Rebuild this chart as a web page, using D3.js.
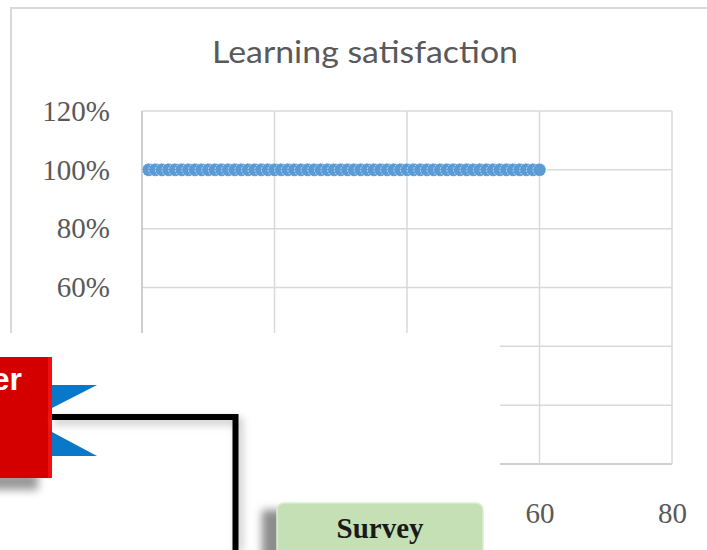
<!DOCTYPE html>
<html>
<head>
<meta charset="utf-8">
<script src="https://cdn.jsdelivr.net/npm/d3@7"></script>
<style>
  html, body { margin: 0; padding: 0; background: #fff; }
  svg { display: block; }
</style>
</head>
<body>
<div id="chart"></div>
<script>
// one point per student, every answer was "satisfied"
const studentNo = [1, 2, 3, 4, 5, 6, 7, 8, 9, 10, 11, 12, 13, 14, 15, 16, 17, 18, 19, 20,
    21, 22, 23, 24, 25, 26, 27, 28, 29, 30, 31, 32, 33, 34, 35, 36, 37, 38, 39, 40,
    41, 42, 43, 44, 45, 46, 47, 48, 49, 50, 51, 52, 53, 54, 55, 56, 57, 58, 59, 60]
const satisfaction = [1, 1, 1, 1, 1, 1, 1, 1, 1, 1, 1, 1, 1, 1, 1, 1, 1, 1, 1, 1,
    1, 1, 1, 1, 1, 1, 1, 1, 1, 1, 1, 1, 1, 1, 1, 1, 1, 1, 1, 1,
    1, 1, 1, 1, 1, 1, 1, 1, 1, 1, 1, 1, 1, 1, 1, 1, 1, 1, 1, 1]
const xTicks = [0, 20, 40, 60, 80]
const yTicks = [0, 0.2, 0.4, 0.6, 0.8, 1.0, 1.2]
const chartTitle = 'Learning satisfaction'

const width = 707
const height = 550

// the pasted diagram covers this part of the chart
const cover = { x: 0, y: 333, w: 500, h: 217 }
const isCovered = (px, py) => px < cover.x + cover.w && py > cover.y

const svg = d3.select('#chart').append('svg')
    .attr('width', width)
    .attr('height', height)
    .style('font-family', "'Liberation Serif', 'Times New Roman', serif")

const defs = svg.append('defs')
defs.append('filter').attr('id', 'soft-shadow')
    .attr('x', '-50%').attr('y', '-50%').attr('width', '200%').attr('height', '200%')
    .append('feGaussianBlur').attr('stdDeviation', 4)

svg.append('rect').attr('width', width).attr('height', height).attr('fill', '#fff')

// chart frame (runs off the right/bottom of the picture)
svg.append('rect')
    .attr('x', 11).attr('y', 8)
    .attr('width', 720).attr('height', 560)
    .attr('fill', 'none')
    .attr('stroke', '#d9d9d9')
    .attr('stroke-width', 2)

const x = d3.scaleLinear().domain([0, 80]).range([142, 672])
const y = d3.scaleLinear().domain([0, 1.2]).range([464, 111])

const plot = svg.append('g')

// gridlines
plot.append('g').selectAll('line').data(yTicks).enter()
    .append('line')
    .attr('x1', x(0)).attr('x2', x(80))
    .attr('y1', d => y(d)).attr('y2', d => y(d))
    .attr('stroke', d => d === 0 ? '#bfbfbf' : '#d9d9d9')
    .attr('stroke-width', 1.5)

plot.append('g').selectAll('line').data(xTicks).enter()
    .append('line')
    .attr('x1', d => x(d)).attr('x2', d => x(d))
    .attr('y1', y(1.2)).attr('y2', y(0))
    .attr('stroke', d => d === 0 ? '#bfbfbf' : '#d9d9d9')
    .attr('stroke-width', 1.5)

// axes, labels only
const yAxis = plot.append('g')
    .attr('transform', `translate(${x(0)},0)`)
    .call(d3.axisLeft(y).tickValues(yTicks).tickFormat(d3.format('.0%')).tickSize(0).tickPadding(32))
const xAxis = plot.append('g')
    .attr('transform', `translate(0,${y(0)})`)
    .call(d3.axisBottom(x).tickValues(xTicks).tickSize(0).tickPadding(38))

;[yAxis, xAxis].forEach(a => {
    a.select('.domain').remove()
    a.selectAll('text')
        .attr('font-family', "'Liberation Serif', 'Times New Roman', serif")
        .attr('font-size', 29)
        .attr('fill', '#595959')
})

// labels hidden under the diagram are not drawn
yAxis.selectAll('.tick').filter(d => isCovered(x(0) - 60, y(d))).remove()
xAxis.selectAll('.tick').filter(d => isCovered(x(d), y(0) + 45)).remove()

// series
const points = studentNo.map((d, i) => ({ x: d, y: satisfaction[i] }))

plot.append('path')
    .datum(points)
    .attr('fill', 'none')
    .attr('stroke', '#5b9bd5')
    .attr('stroke-width', 2.5)
    .attr('d', d3.line().x(d => x(d.x)).y(d => y(d.y)))

plot.append('g').selectAll('circle').data(points).enter()
    .append('circle')
    .attr('cx', d => x(d.x))
    .attr('cy', d => y(d.y))
    .attr('r', 6.5)
    .attr('fill', '#5b9bd5')
    .attr('stroke', '#ffffff')
    .attr('stroke-width', 0.7)
    .attr('stroke-dasharray', '1.5,1.5')

svg.append('text')
    .text(chartTitle)
    .attr('x', 365)
    .attr('y', 63)
    .attr('text-anchor', 'middle')
    .attr('font-family', "Lato, 'Open Sans', sans-serif")
    .attr('font-weight', 400)
    .attr('font-size', 31)
    .attr('fill', '#595959')
    .attr('textLength', 306)
    .attr('lengthAdjust', 'spacingAndGlyphs')

// pasted piece of a flow diagram sitting on top of the chart
const diagram = svg.append('g')

diagram.append('rect')
    .attr('x', cover.x).attr('y', cover.y)
    .attr('width', cover.w).attr('height', cover.h)
    .attr('fill', '#fff')

// red box + shadow
diagram.append('rect')
    .attr('x', -10).attr('y', 472)
    .attr('width', 48).attr('height', 18)
    .attr('fill', '#9a9a9a')
    .attr('filter', 'url(#soft-shadow)')
diagram.append('rect')
    .attr('x', -5).attr('y', 357)
    .attr('width', 57).attr('height', 121)
    .attr('fill', '#d40000')
diagram.append('rect')
    .attr('x', 48).attr('y', 357)
    .attr('width', 4).attr('height', 121)
    .attr('fill', '#f01010')
diagram.append('text')
    .text('er')
    .attr('x', 22).attr('y', 390)
    .attr('text-anchor', 'end')
    .attr('font-family', "'Liberation Sans', Arial, sans-serif")
    .attr('font-weight', 'bold')
    .attr('font-size', 32)
    .attr('fill', '#fff')

// blue arrow wedges
diagram.append('path')
    .attr('d', 'M52,385 L97,385 L52,408 Z')
    .attr('fill', '#0a78c8')
diagram.append('path')
    .attr('d', 'M52,432 L97,456 L52,456 Z')
    .attr('fill', '#0a78c8')

// connector
diagram.append('path')
    .attr('d', 'M54,421 L239,421 L239,552')
    .attr('fill', 'none')
    .attr('stroke', '#b0b0b0')
    .attr('stroke-width', 5)
    .attr('filter', 'url(#soft-shadow)')
diagram.append('path')
    .attr('d', 'M52,417 L235.5,417 L235.5,552')
    .attr('fill', 'none')
    .attr('stroke', '#000')
    .attr('stroke-width', 6)

// green survey box + shadow
diagram.append('rect')
    .attr('x', 262).attr('y', 510)
    .attr('width', 30).attr('height', 60)
    .attr('fill', '#8c8c8c')
    .attr('filter', 'url(#soft-shadow)')
diagram.append('rect')
    .attr('x', 277).attr('y', 503)
    .attr('width', 206).attr('height', 70)
    .attr('rx', 7)
    .attr('fill', '#c5e0b4')
    .attr('stroke', '#dcedd2')
    .attr('stroke-width', 1.5)
diagram.append('text')
    .text('Survey')
    .attr('x', 380).attr('y', 538)
    .attr('text-anchor', 'middle')
    .attr('font-family', "'Liberation Serif', 'Times New Roman', serif")
    .attr('font-weight', 'bold')
    .attr('font-size', 29)
    .attr('fill', '#1a1a1a')
</script>
</body>
</html>
